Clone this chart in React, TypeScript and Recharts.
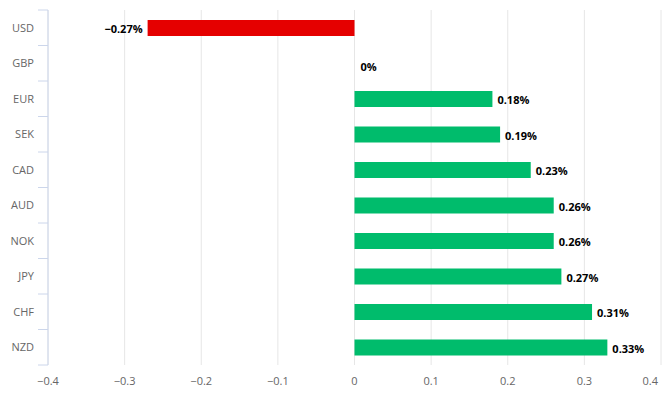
import React from "react";
import { BarChart, Bar, XAxis, YAxis, CartesianGrid, Cell, LabelList } from "recharts";

const currencies = ["USD", "GBP", "EUR", "SEK", "CAD", "AUD", "NOK", "JPY", "CHF", "NZD"];
const changes = [-0.27, 0, 0.18, 0.19, 0.23, 0.26, 0.26, 0.27, 0.31, 0.33];
const xTicks = [-0.4, -0.3, -0.2, -0.1, 0, 0.1, 0.2, 0.3, 0.4];

const data = currencies.map((c, i) => ({ name: c, value: changes[i] }));

const W = 670;
const H = 394;
const MARGIN = { top: 10, right: 9, bottom: 0, left: 0 };
const X_AXIS_H = 29;
const BAND = (H - MARGIN.top - MARGIN.bottom - X_AXIS_H) / currencies.length;

const FONT = "'Open Sans', sans-serif";
const AXIS_COLOR = "#ccd6eb";

const fmt = (v: number) => (v < 0 ? "\u2212" + Math.abs(v) : String(v));

const CategoryTick = ({ x, y, payload, index }: any) => (
    <g>
        <text x={x} y={y} dy={4} textAnchor="end" fill="#666666" fontSize={11} fontFamily={FONT}>
            {payload.value}
        </text>
        <line x1={x + 4} x2={x + 14} y1={y - BAND / 2} y2={y - BAND / 2} stroke={AXIS_COLOR} />
        {index === currencies.length - 1 && (
            <line x1={x + 4} x2={x + 14} y1={y + BAND / 2} y2={y + BAND / 2} stroke={AXIS_COLOR} />
        )}
    </g>
);

const ValueTick = ({ x, y, payload, index }: any) => {
    const last = index === xTicks.length - 1;
    return (
        <text
            x={last ? x - 3 : x}
            y={y}
            dy={12}
            textAnchor={last ? "end" : "middle"}
            fill="#666666"
            fontSize={11}
            fontFamily={FONT}
        >
            {fmt(payload.value)}
        </text>
    );
};

const ValueLabel = ({ x, y, width, height, value }: any) => {
    const left = Math.min(x, x + width);
    const right = Math.max(x, x + width);
    const neg = value < 0;
    const text = (neg ? "\u2212" + Math.abs(value).toFixed(2) : value === 0 ? "0" : value.toFixed(2)) + "%";
    return (
        <text
            x={neg ? left - 5 : right + 5}
            y={y + height / 2}
            dy={value === 0 ? 7 : 5}
            textAnchor={neg ? "end" : "start"}
            fill="#000000"
            fontSize={11}
            fontWeight={700}
            fontFamily={FONT}
        >
            {text}
        </text>
    );
};

export default function App() {
    return (
        <div style={{ position: "absolute", left: 0, top: 0, width: W, height: H, background: "#fff" }}>
            <BarChart width={W} height={H} data={data} layout="vertical" margin={MARGIN} barCategoryGap={0}>
                <CartesianGrid horizontal={false} stroke="#e6e6e6" />
                <XAxis
                    type="number"
                    domain={[-0.4, 0.4]}
                    ticks={xTicks}
                    axisLine={false}
                    tickLine={false}
                    height={X_AXIS_H}
                    tick={<ValueTick />}
                    interval={0}
                />
                <YAxis
                    type="category"
                    dataKey="name"
                    width={48}
                    axisLine={{ stroke: AXIS_COLOR }}
                    tickLine={false}
                    tickSize={10}
                    tickMargin={4}
                    tick={<CategoryTick />}
                    interval={0}
                />
                <Bar dataKey="value" barSize={16} minPointSize={1} isAnimationActive={false}>
                    {data.map((d, i) => (
                        <Cell key={i} fill={d.value < 0 ? "#e50000" : d.value === 0 ? "transparent" : "#00bc6c"} />
                    ))}
                    <LabelList dataKey="value" content={<ValueLabel />} />
                </Bar>
            </BarChart>
        </div>
    );
}
